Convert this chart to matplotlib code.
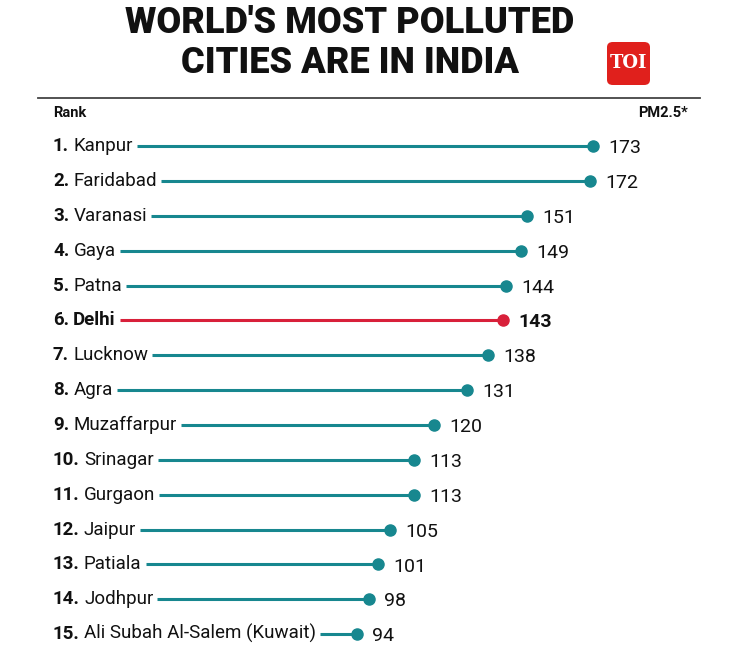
import matplotlib.pyplot as plt
from matplotlib.patches import FancyBboxPatch

ranks = [str(i) + '.' for i in range(1, 16)]
cities = ['Kanpur', 'Faridabad', 'Varanasi', 'Gaya', 'Patna', 'Delhi', 'Lucknow', 'Agra',
          'Muzaffarpur', 'Srinagar', 'Gurgaon', 'Jaipur', 'Patiala', 'Jodhpur',
          'Ali Subah Al-Salem (Kuwait)']
pm25 = [173, 172, 151, 149, 144, 143, 138, 131, 120, 113, 113, 105, 101, 98, 94]
highlight = 'Delhi'

teal = '#17878f'
red = '#d8203a'
lab = ['Roboto', 'DejaVu Sans']

fig = plt.figure(figsize=(7.29, 6.46), dpi=100)
ax = fig.add_axes([0, 0, 1, 1])
ax.set_xlim(-25.44, 218.6)
ax.set_ylim(15.34, -3.19)
ax.axis('off')

fig.text(350 / 729, 1 - 23 / 646, "WORLD'S MOST POLLUTED", ha='center', va='center',
         fontsize=26, fontweight='black', family=lab, color='#111111')
fig.text(350 / 729, 1 - 63 / 646, 'CITIES ARE IN INDIA', ha='center', va='center',
         fontsize=26, fontweight='black', family=lab, color='#111111')

# TOI logo
logo = FancyBboxPatch((607 / 729, 1 - 85 / 646), 43 / 729, 43 / 646,
                      boxstyle='round,pad=0,rounding_size=0.008',
                      transform=fig.transFigure, facecolor='#e0201c', edgecolor='none')
fig.patches.append(logo)
fig.text(628.5 / 729, 1 - 63 / 646, 'TOI', ha='center', va='center', color='white',
         fontsize=13, fontweight='bold', family='DejaVu Serif')

fig.add_artist(plt.Line2D([38 / 729, 700 / 729], [1 - 98 / 646] * 2,
                          transform=fig.transFigure, color='#444444', lw=1.3))
fig.text(53 / 729, 1 - 113 / 646, 'Rank', ha='left', va='center', fontsize=10.5,
         fontweight='bold', family=lab, color='#111111')
fig.text(688 / 729, 1 - 113 / 646, 'PM2.5*', ha='right', va='center', fontsize=10.5,
         fontweight='bold', family=lab, color='#111111')

x_label = -7.7
names = []
for i, (r, c, v) in enumerate(zip(ranks, cities, pm25)):
    y = i + 1
    hl = c == highlight
    t = ax.text(x_label, y, r, ha='left', va='center', fontsize=13.5, fontweight='bold',
                family=lab, color='#111111')
    n = ax.annotate(c, xy=(1, 0), xycoords=t, xytext=(3, 0), textcoords='offset points',
                    ha='left', va='bottom', fontsize=13.5,
                    fontweight='bold' if hl else 'normal', family=lab, color='#111111')
    names.append(n)
    ax.annotate(str(v), xy=(v, y), xytext=(11, -1.5), textcoords='offset points',
                ha='left', va='center', fontsize=14,
                fontweight='bold' if hl else 'normal', family=lab, color='#111111')

fig.canvas.draw()
inv = ax.transData.inverted()
for i, (n, v) in enumerate(zip(names, pm25)):
    y = i + 1
    bb = n.get_window_extent()
    x0 = inv.transform((bb.x1 + 4, 0))[0]
    col = red if cities[i] == highlight else teal
    ax.plot([x0, v], [y, y], color=col, lw=2.2, solid_capstyle='butt')
    ax.plot(v, y, 'o', color=col, ms=8)

fig.savefig('out.png', dpi=100)
